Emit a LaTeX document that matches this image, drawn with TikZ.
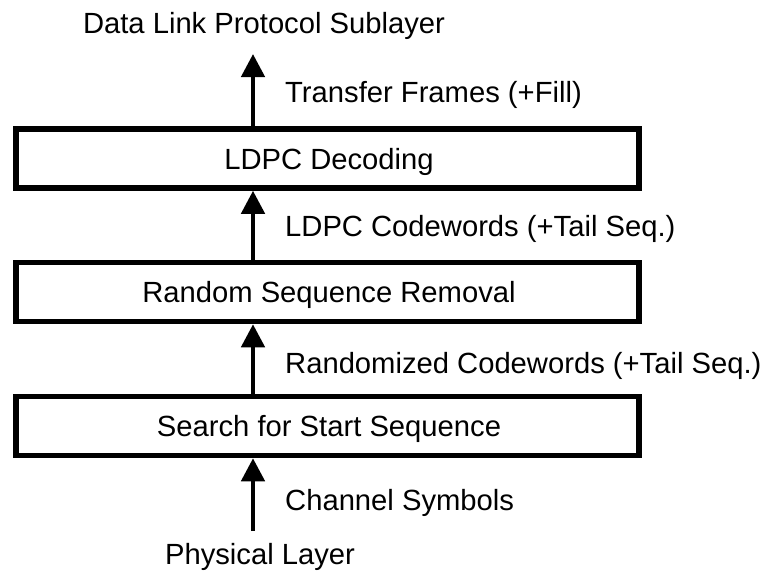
\documentclass[tikz,border=0pt]{standalone}
\usepackage{fontspec}
\setmainfont{Liberation Sans}
\usetikzlibrary{arrows.meta}
\tikzset{
  layerbox/.style={draw=black, line width=5.5pt, minimum width=623pt, minimum height=59pt, inner sep=0pt},
  flow/.style={line width=4.5pt, -{Triangle[length=23pt,width=23pt]}},
  lbl/.style={anchor=base west, inner sep=0pt, font=\fontsize{29.2}{31}\selectfont},
  txt/.style={inner sep=0pt, font=\fontsize{29.2}{31}\selectfont}
}
\begin{document}
\begin{tikzpicture}[x=1pt,y=-1pt]
\useasboundingbox (0,0) rectangle (764,573);
% boxes
\node[layerbox] (b1) at (327.5,158.5) {};
\node[layerbox] (b2) at (327.5,292) {};
\node[layerbox] (b3) at (327.5,426) {};
\node[txt, anchor=base] (t1) at (329,169) {LDPC Decoding};
\node[txt, anchor=base] (t2) at (329,302.5) {Random Sequence Removal};
\node[txt, anchor=base] (t3) at (329,436) {Search for Start Sequence};
% ends
\node[txt, anchor=base] (top) at (264,33) {Data Link Protocol Sublayer};
\node[txt, anchor=base] (bot) at (260,564) {Physical Layer};
\coordinate (ax) at (253,0);
\coordinate (tipTop) at (253,54);
\coordinate (startBot) at (253,531);
% arrows
\draw[flow] (b1.north -| ax) -- (tipTop);
\draw[flow] (b2.north -| ax) -- (b1.south -| ax);
\draw[flow] (b3.north -| ax) -- (b2.south -| ax);
\draw[flow] (startBot) -- (b3.south -| ax);
% labels
\node[lbl] (l1) at (285,102) {Transfer Frames (+Fill)};
\node[lbl] (l2) at (285,236) {LDPC Codewords (+Tail Seq.)};
\node[lbl] (l3) at (285,373) {Randomized Codewords (+Tail Seq.)};
\node[lbl] (l4) at (285,510) {Channel Symbols};
\end{tikzpicture}
\end{document}
